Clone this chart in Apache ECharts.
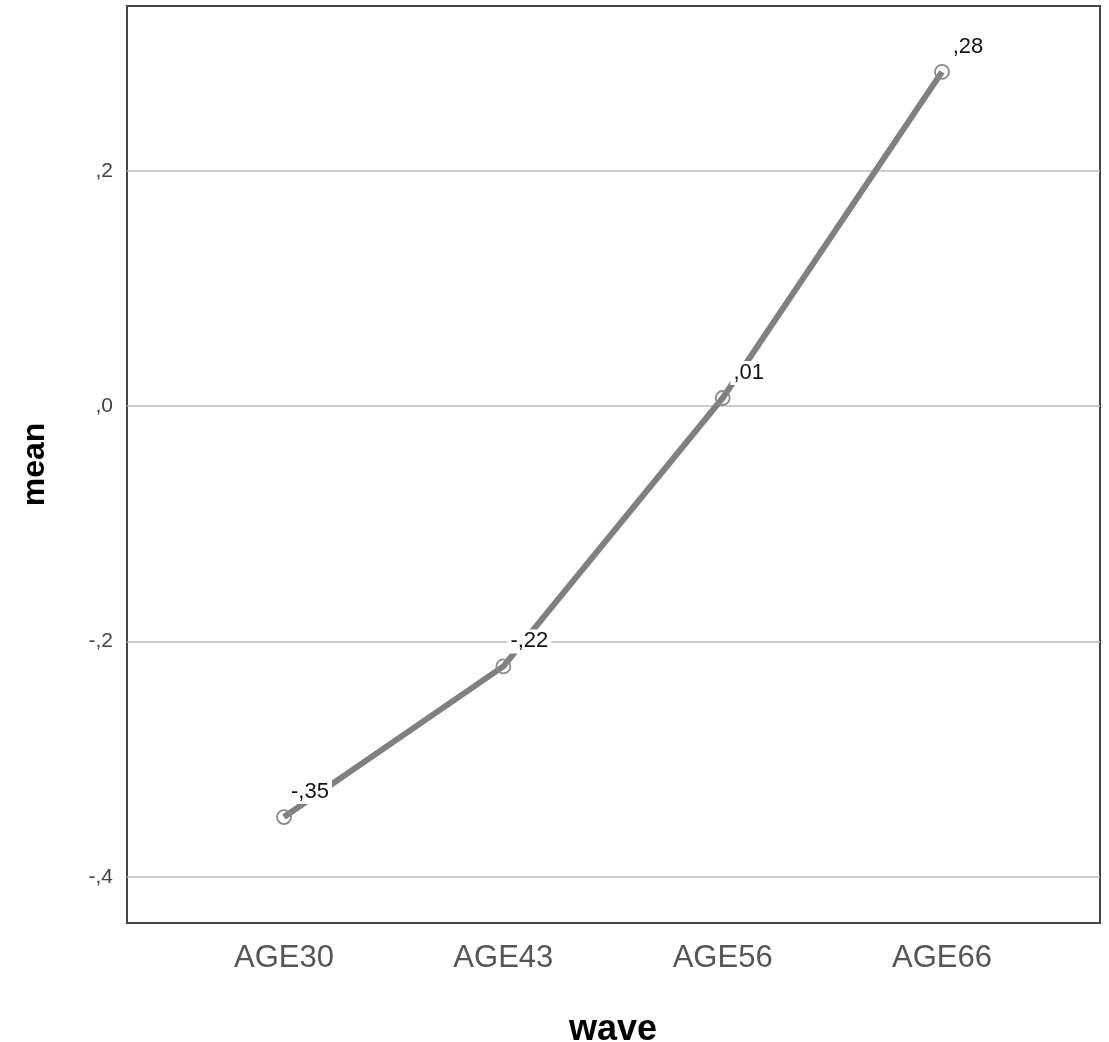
<!DOCTYPE html>
<html>
<head>
<meta charset="utf-8">
<script src="https://cdn.jsdelivr.net/npm/echarts@6/dist/echarts.min.js"></script>
<style>html,body{margin:0;padding:0;background:#fff}#c{width:1109px;height:1042px}</style>
</head>
<body>
<div id="c"></div>
<script>
const categories = ['AGE30', 'AGE43', 'AGE56', 'AGE66'];
const meanValues = [-0.349, -0.221, 0.007, 0.284];
const yTicks = [-0.4, -0.2, 0, 0.2];
const yMin = -0.439, yMax = 0.34;

function fmt(v, d) {
  let s = Math.abs(v) < 1e-9 ? (0).toFixed(d) : v.toFixed(d);
  s = s.replace('0.', ',');
  return s;
}

const font = 'Liberation Sans, Arial, sans-serif';
const chart = echarts.init(document.getElementById('c'));
chart.setOption({
  animation: false,
  backgroundColor: '#fff',
  grid: [
    { left: 127, right: 9, top: 6, bottom: 119, show: true, borderColor: '#444', borderWidth: 2,
      backgroundColor: 'transparent', containLabel: false, outerBoundsMode: 'none' },
    { left: 174.33, right: 57.33, top: 6, bottom: 119, containLabel: false, outerBoundsMode: 'none' }
  ],
  xAxis: [
    { gridIndex: 0, type: 'value', show: false, min: 0, max: 1 },
    { gridIndex: 1, type: 'category', data: categories, boundaryGap: true,
      axisLine: { show: false }, axisTick: { show: false },
      axisLabel: { color: '#555', fontSize: 31, fontFamily: font, margin: 20 },
      name: 'wave', nameLocation: 'middle', nameGap: 89,
      nameTextStyle: { color: '#000', fontSize: 36, fontWeight: 'bold', fontFamily: font } }
  ],
  yAxis: [
    { gridIndex: 0, type: 'value', min: yMin, max: yMax,
      axisLine: { show: false },
      axisTick: { show: false, customValues: yTicks },
      axisLabel: { customValues: yTicks, color: '#444', fontSize: 21, fontFamily: font, margin: 14,
        formatter: v => fmt(v, 1) },
      splitLine: { show: true, lineStyle: { color: '#bbb', width: 1.5 } },
      name: 'mean', nameLocation: 'middle', nameGap: 76,
      nameTextStyle: { color: '#000', fontSize: 32, fontWeight: 'bold', fontFamily: font } },
    { gridIndex: 1, type: 'value', min: yMin, max: yMax, show: false }
  ],
  series: [{
    type: 'line',
    xAxisIndex: 1, yAxisIndex: 1,
    data: meanValues,
    lineStyle: { color: '#808080', width: 6 },
    symbol: 'circle', symbolSize: 14,
    itemStyle: { color: 'rgba(255,255,255,0)', borderColor: '#8a8a8a', borderWidth: 1.8 },
    label: {
      show: true, position: 'inside', offset: [26, -25],
      formatter: p => fmt(p.value, 2),
      color: '#111', fontSize: 22, fontFamily: font,
      backgroundColor: '#fff', padding: [1, 3]
    },
    z: 3
  }]
});
</script>
</body>
</html>
